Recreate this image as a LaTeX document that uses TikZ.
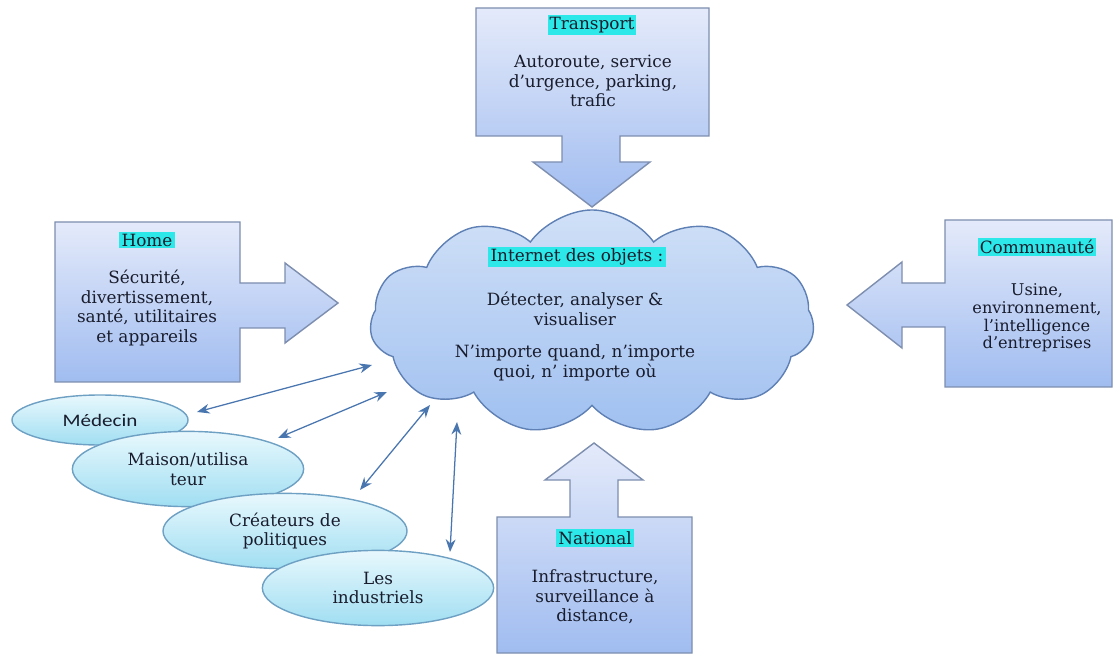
\documentclass[tikz,border=0pt]{standalone}
\usepackage{fontspec}
\setmainfont{DejaVu Serif}
\newfontfamily\medfont{Carlito}[FakeStretch=1.2]
\usepackage{xcolor}
\usepackage{tikz}
\usetikzlibrary{positioning, arrows.meta, shapes.geometric, shapes.symbols}
\definecolor{boxTop}{RGB}{228, 234, 250}
\definecolor{boxBot}{RGB}{160, 188, 240}
\definecolor{boxLine}{RGB}{125, 142, 175}
\definecolor{cloudTop}{RGB}{208, 224, 247}
\definecolor{cloudBot}{RGB}{160, 192, 240}
\definecolor{cloudLine}{RGB}{95, 128, 180}
\definecolor{ellTop}{RGB}{232, 248, 253}
\definecolor{ellBot}{RGB}{160, 222, 242}
\definecolor{ellLine}{RGB}{110, 160, 195}
\definecolor{hlCyan}{RGB}{45, 232, 232}
\definecolor{arrBlue}{RGB}{74, 118, 176}
\definecolor{txtDark}{RGB}{24, 28, 44}

\begin{document}
\begin{tikzpicture}[
        x=0.025cm, y=-0.025cm,
        font=\fontsize{12}{14}\selectfont\color{txtDark},
        callout/.style={draw=boxLine, line width=1pt, line join=miter, top color=boxTop, bottom color=boxBot},
        ttl/.style={fill=hlCyan, inner sep=1.5pt},
        txt/.style={align=center, inner sep=0pt},
        bubble/.style={ellipse, draw=ellLine, line width=1pt, top color=ellTop, bottom color=ellBot,
            inner sep=0pt, align=center},
        arr/.style={{Stealth[length=9pt, width=7pt]}-{Stealth[length=9pt, width=7pt]}, line width=0.9pt, arrBlue}
    ]
    \useasboundingbox (0,0) rectangle (1117,655);

    % callouts
    \path[callout] (476,8) -- (709,8) -- (709,136) -- (620,136) -- (620,162) -- (650,162) -- (592,207)
        -- (533,162) -- (562,162) -- (562,136) -- (476,136) -- cycle;
    \path[callout] (55,222) -- (240,222) -- (240,283) -- (285,283) -- (285,263) -- (338,303) -- (285,343)
        -- (285,328) -- (240,328) -- (240,382) -- (55,382) -- cycle;
    \path[callout] (945,220) -- (1112,220) -- (1112,387) -- (945,387) -- (945,327) -- (902,327) -- (902,348)
        -- (847,305) -- (902,262) -- (902,283) -- (945,283) -- cycle;
    \path[callout] (497,517) -- (570,517) -- (570,480) -- (545,480) -- (594,443) -- (643,480) -- (618,480)
        -- (618,517) -- (692,517) -- (692,653) -- (497,653) -- cycle;

    \node[ttl] (transportTtl) at (592,25) {Transport};
    \node[txt] (transportTxt) at (593,81) {Autoroute, service\\d'urgence, parking,\\trafic};
    \node[ttl] (homeTtl) at (147,240) {Home};
    \node[txt] (homeTxt) at (147,308) {Sécurité,\\divertissement,\\santé, utilitaires\\et appareils};
    \node[ttl] (commTtl) at (1037,247) {Communauté};
    \node[txt, font=\fontsize{11.5}{12.5}\selectfont\color{txtDark}] (commTxt) at (1037,318)
        {Usine,\\environnement,\\l'intelligence\\d'entreprises};
    \node[ttl] (natTtl) at (595,538) {National};
    \node[txt] (natTxt) at (595,597) {Infrastructure,\\surveillance à\\distance,};

    % cloud
    \node[cloud, cloud puffs=11, cloud puff arc=110, aspect=2, draw=cloudLine, line width=1pt,
        top color=cloudTop, bottom color=cloudBot, minimum width=11.1cm, minimum height=5.6cm] (iot) at (592,322) {};
    \node[ttl] (iotTtl) at (577,257) {Internet des objets :};
    \node[txt] (iotTxt) at (575,309) {Détecter, analyser \&\\visualiser};
    \node[txt] (iotWhen) at (575,363) {N'importe quand, n'importe\\quoi, n' importe où};

    % actors
    \node[bubble, minimum width=4.4cm, minimum height=1.25cm, font=\medfont\fontsize{12.5}{14}\selectfont\color{txtDark}]
        (medecin) at (100,420) {Médecin};
    \node[bubble, minimum width=5.78cm, minimum height=1.88cm] (maison) at (188,469) {Maison/utilisa\\teur};
    \node[bubble, minimum width=6.1cm, minimum height=1.88cm] (createurs) at (285,531) {Créateurs de\\politiques};
    \node[bubble, minimum width=5.78cm, minimum height=1.88cm] (industriels) at (378,588) {Les\\industriels};

    \coordinate (medEnd) at (197,412);
    \coordinate (maiEnd) at (278,438);
    \coordinate (creEnd) at (360,490);
    \coordinate (indEnd) at (450,552);
    \coordinate (iotA) at (372,365);
    \coordinate (iotB) at (387,392);
    \coordinate (iotC) at (430,405);
    \coordinate (iotD) at (457,422);
    \draw[arr] (medEnd) -- (iotA);
    \draw[arr] (maiEnd) -- (iotB);
    \draw[arr] (creEnd) -- (iotC);
    \draw[arr] (indEnd) -- (iotD);
\end{tikzpicture}
\end{document}
